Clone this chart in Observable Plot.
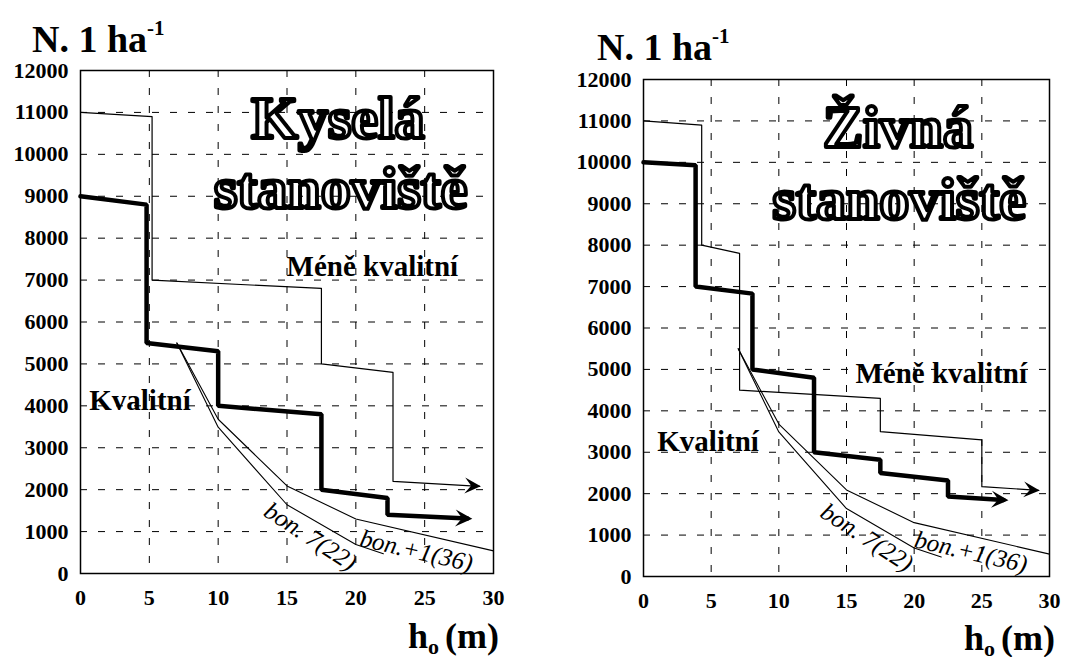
<!DOCTYPE html>
<html><head><meta charset="utf-8">
<script src="https://cdn.jsdelivr.net/npm/d3@7"></script>
<script src="https://cdn.jsdelivr.net/npm/@observablehq/plot@0.6"></script>
<style>
body{margin:0;background:#fff;}
#wrap{position:relative;width:1081px;height:657px;overflow:hidden;background:#fff;font-family:"Liberation Serif","Times New Roman",serif;}
.panel{position:absolute;top:0;height:657px;}
.lab{position:absolute;font-weight:bold;line-height:1;white-space:nowrap;color:#000;font-family:"Liberation Serif",serif;}
.sup{font-size:21px;vertical-align:17px;line-height:0;}
.sub{font-size:22px;vertical-align:-6px;line-height:0;}
</style></head><body>
<div id="wrap">
  <div id="p1" class="panel" style="left:0;width:540px"></div>
  <div id="p2" class="panel" style="left:540px;width:541px"></div>
  <div class="lab" style="left:32px;top:20px;font-size:38px">N. 1 ha<span class="sup">-1</span></div>
  <div class="lab" style="left:597px;top:28px;font-size:38px">N. 1 ha<span class="sup">-1</span></div>
  <div class="lab" style="left:408px;top:618px;font-size:36px">h<span class="sub">o</span><span style="margin-left:6px">(m)</span></div>
  <div class="lab" style="left:964px;top:620px;font-size:36px">h<span class="sub">o</span><span style="margin-left:6px">(m)</span></div>
</div>
<script>
// ---- data ----
const xTicks = [0, 5, 10, 15, 20, 25, 30];
const yTicks = [0, 1000, 2000, 3000, 4000, 5000, 6000, 7000, 8000, 9000, 10000, 11000, 12000];

// Kyselá stanoviště
const kysPoorX = [0, 5.2, 5.2, 17.5, 17.5, 22.7, 22.7, 29.0];
const kysPoorY = [11000, 10900, 7000, 6800, 5000, 4800, 2200, 2080];
const kysGoodX = [0, 4.8, 4.8, 10, 10, 17.5, 17.5, 22.3, 22.3, 28.1];
const kysGoodY = [9000, 8800, 5500, 5300, 4000, 3800, 2000, 1800, 1400, 1310];

// Živná stanoviště
const zivPoorX = [0, 4.3, 4.3, 7.1, 7.1, 17.5, 17.5, 25, 25, 29.2];
const zivPoorY = [11000, 10900, 8000, 7800, 4500, 4300, 3500, 3300, 2170, 2080];
const zivGoodX = [0, 3.85, 3.85, 8.05, 8.05, 12.6, 12.6, 17.5, 17.5, 22.5, 22.5, 26.6];
const zivGoodY = [10000, 9930, 7000, 6830, 5000, 4800, 3000, 2820, 2500, 2320, 1930, 1850];

// bonity curves
const bonPlusX = [7, 10, 15, 20, 30];
const bonPlusY = [5500, 3680, 2090, 1300, 540];
const bon7X = [7, 10, 15, 20, 22];
const bon7Y = [5500, 3490, 1640, 690, 470];

const titles = {kys: ["Kyselá", "stanoviště"], ziv: ["Živná", "stanoviště"]};
const lblPoor = "Méně kvalitní";
const lblGood = "Kvalitní";
const lblBon7 = "bon. 7(22)";
const lblBonPlus = "bon.+1(36)";

const pts = (xs, ys) => xs.map((x, i) => ({x, y: ys[i]}));

function arrowHead(L, H, back) {
  return (color) => {
    const ns = "http://www.w3.org/2000/svg";
    const m = document.createElementNS(ns, "marker");
    m.setAttribute("viewBox", `${-L - 2} ${-H - 2} ${L + back + 4} ${2 * H + 4}`);
    m.setAttribute("markerWidth", L + back + 4);
    m.setAttribute("markerHeight", 2 * H + 4);
    m.setAttribute("markerUnits", "userSpaceOnUse");
    m.setAttribute("refX", -back);
    m.setAttribute("refY", 0);
    m.setAttribute("orient", "auto");
    const p = document.createElementNS(ns, "path");
    p.setAttribute("d", `M${-L},${-H}L0,0L${-L},${H}L${-L * 0.6},0Z`);
    p.setAttribute("fill", color);
    p.setAttribute("stroke", "none");
    m.appendChild(p);
    return m;
  };
}

function panel(cfg) {
  const txt = {fontFamily: "Liberation Serif", fill: "black"};
  const big = {...txt, fontSize: 60, fontWeight: "bold", fill: "white", stroke: "black", strokeWidth: 4, strokeLinejoin: "round", paintOrder: "normal", lineAnchor: "bottom", textAnchor: "middle"};
  return Plot.plot({
    width: cfg.width, height: 657,
    marginLeft: cfg.ml, marginRight: cfg.mr, marginTop: cfg.mt, marginBottom: cfg.mb,
    style: {fontFamily: "Liberation Serif", fontSize: "22px", fontWeight: "bold", color: "black", background: "white"},
    x: {domain: [0, 30], ticks: xTicks, label: null},
    y: {domain: [0, 12000], ticks: yTicks, label: null},
    marks: [
      Plot.gridX(xTicks.filter(d => d > 0 && d < 30), {stroke: "black", strokeOpacity: 1, strokeWidth: 1, strokeDasharray: "7,11"}),
      Plot.gridY(yTicks.filter(d => d > 0 && d < 12000), {stroke: "black", strokeOpacity: 1, strokeWidth: 1, strokeDasharray: "7,11"}),
      Plot.axisX(xTicks, {tickSize: 0, tickPadding: 16, tickFormat: d => String(d), label: null, fontFamily: "Liberation Serif", fontWeight: "bold", fontSize: 22}),
      Plot.axisY(yTicks, {tickSize: 0, tickPadding: 12, tickFormat: d => String(d), label: null, fontFamily: "Liberation Serif", fontWeight: "bold", fontSize: 22}),
      Plot.line(pts(bonPlusX, bonPlusY), {x: "x", y: "y", stroke: "black", strokeWidth: 1.1}),
      Plot.line(pts(bon7X, bon7Y), {x: "x", y: "y", stroke: "black", strokeWidth: 1.1}),
      Plot.line(pts(cfg.poorX, cfg.poorY), {x: "x", y: "y", stroke: "black", strokeWidth: 1.2, markerEnd: arrowHead(16, 8, 1)}),
      Plot.line(pts(cfg.goodX, cfg.goodY), {x: "x", y: "y", stroke: "black", strokeWidth: 4.5, strokeLinejoin: "miter", markerEnd: arrowHead(17, 8.5, 5)}),
      Plot.text([cfg.title[0]], {x: cfg.t1[0], y: cfg.t1[1], text: d => d, ...big}),
      Plot.text([cfg.title[1]], {x: cfg.t2[0], y: cfg.t2[1], text: d => d, ...big}),
      Plot.text([lblPoor], {x: cfg.lp[0], y: cfg.lp[1], text: d => d, ...txt, fontSize: 29, fontWeight: "bold", lineAnchor: "bottom", textAnchor: "middle"}),
      Plot.text([lblGood], {x: cfg.lg[0], y: cfg.lg[1], text: d => d, ...txt, fontSize: 29, fontWeight: "bold", lineAnchor: "bottom", textAnchor: "middle"}),
      Plot.text([lblBon7], {x: cfg.b7[0], y: cfg.b7[1], text: d => d, ...txt, fontSize: 25, fontWeight: "normal", fontStyle: "italic", rotate: 33, lineAnchor: "middle", textAnchor: "middle"}),
      Plot.text([lblBonPlus], {x: cfg.bp[0], y: cfg.bp[1], text: d => d, ...txt, fontSize: 25, fontWeight: "normal", fontStyle: "italic", rotate: 13, lineAnchor: "middle", textAnchor: "middle"}),
      Plot.frame({stroke: "black", strokeWidth: 1.5})
    ]
  });
}

document.getElementById("p1").append(panel({
  width: 540, ml: 80, mr: 47, mt: 70, mb: 84,
  poorX: kysPoorX, poorY: kysPoorY, goodX: kysGoodX, goodY: kysGoodY,
  title: titles.kys, t1: [18.7, 10400], t2: [18.9, 8730],
  lp: [21.2, 7090], lg: [4.32, 3910], b7: [16.7, 880], bp: [24.4, 540]
}));
document.getElementById("p2").append(panel({
  width: 541, ml: 103, mr: 32, mt: 79, mb: 81,
  poorX: zivPoorX, poorY: zivPoorY, goodX: zivGoodX, goodY: zivGoodY,
  title: titles.ziv, t1: [18.8, 10360], t2: [18.9, 8640],
  lp: [22.0, 4680], lg: [4.77, 3040], b7: [16.5, 940], bp: [24.2, 590]
}));
</script>
</body></html>
